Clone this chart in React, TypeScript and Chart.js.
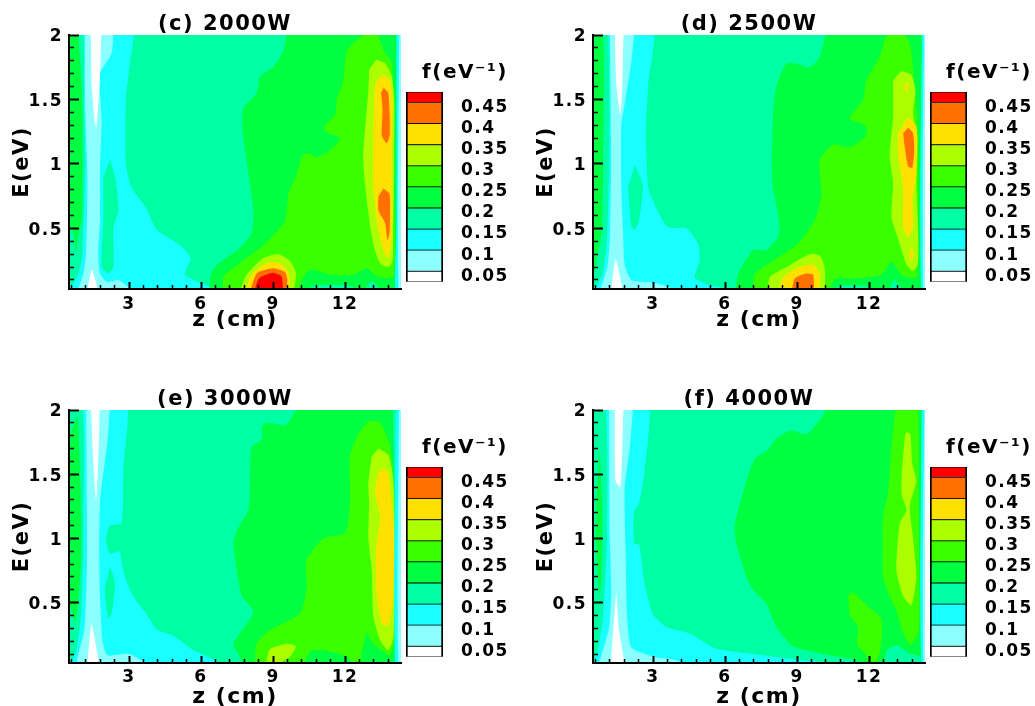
import React, { useEffect, useRef } from "react";
import { Chart, registerables } from "chart.js";

Chart.register(...registerables);

type Pt = number[];
const WHITE = "#ffffff", LIGHT = "#8cffff", CYAN = "#19ffff", SPRING = "#00ffa5", GREEN = "#00ff40",
  LIME = "#39ff00", YGREEN = "#abff00", YELLOW = "#ffe100", ORANGE = "#ff7000", RED = "#ff0000";

const legendBands = [WHITE, LIGHT, CYAN, SPRING, GREEN, LIME, YGREEN, YELLOW, ORANGE, RED];
const legendEdges = [0.025, 0.05, 0.1, 0.15, 0.2, 0.25, 0.3, 0.35, 0.4, 0.45, 0.475];
const legendTicks = [0.05, 0.1, 0.15, 0.2, 0.25, 0.3, 0.35, 0.4, 0.45];
const zMajor = [3, 6, 9, 12];
const zMinor = [0.6, 1.2, 1.8, 2.4, 3.6, 4.2, 4.8, 5.4, 6.6, 7.2, 7.8, 8.4, 9.6, 10.2, 10.8, 11.4, 12.6, 13.2, 13.8];
const eMajor = [0.5, 1, 1.5, 2];
const eMinor = [0.1, 0.2, 0.3, 0.4, 0.6, 0.7, 0.8, 0.9, 1.1, 1.2, 1.3, 1.4, 1.6, 1.7, 1.8, 1.9];
const background: Pt[] = [[0, -1], [16, -1], [16, 3], [0, 3]];

// ---- panel (c) 2000 W
const cCyan: Pt[] = [[0.2, 2.1], [3.15, 2.1], [3.05, 1.8], [2.87, 1.5], [2.87, 1.0], [3.1, 0.82], [3.73, 0.655], [4.15, 0.49], [5.13, 0.37], [5.57, 0.27], [5.33, 0.14], [6.5, 0.03], [6.6, -0.05], [0.2, -0.05]];
const cLight: Pt[] = [[1.17, 2.1], [1.17, 1.47], [1.24, 1.08], [1.27, 0.82], [1.21, 0.31], [1.1, 0.15], [0.89, 0.03], [0.85, -0.05], [3.2, -0.05], [3.04, 0.03], [2.56, 0.1], [2.07, 0.086], [1.79, 0.15], [1.72, 0.31], [1.79, 0.56], [1.79, 0.95], [1.86, 1.34], [1.79, 1.7], [2.28, 1.86], [2.35, 2.1]];
const cWhiteTop: Pt[] = [[1.4, 2.1], [1.45, 1.6], [1.585, 1.31], [1.65, 1.29], [1.79, 1.68], [1.86, 2.1]];
const cWhiteLow: Pt[] = [[1.2, -0.05], [1.45, 0.18], [1.8, -0.05]];
const cSpringL: Pt[] = [[0.2, 2.1], [1.03, 2.1], [1.12, 1.5], [1.17, 1], [1.06, 0.31], [0.89, 0.15], [0.68, 0.07], [0.5, 0.05], [0.2, 0.05]];
const cGreenL: Pt[] = [[0.57, 2.1], [0.82, 2.1], [1.03, 1.6], [1.07, 1], [1.03, 0.56], [0.89, 0.45], [0.79, 0.31], [0.7, 0.46], [0.54, 0.5], [0.2, 0.5], [0.2, 1.7]];
const cIsland: Pt[] = [[2.21, 1.03], [2.42, 0.9], [2.56, 0.64], [2.35, 0.51], [2.35, 0.2], [2.14, 0.15], [1.86, 0.2], [1.93, 0.56], [1.93, 0.9]];
const cGreen: Pt[] = [[9.64, 2.1], [9.43, 1.88], [9.0, 1.75], [8.46, 1.68], [8.32, 1.55], [7.76, 1.43], [7.74, 1.24], [8.18, 0.64], [8.1, 0.46], [7.6, 0.345], [6.65, 0.215], [6.38, 0.125], [6.5, -0.05], [14.18, -0.05], [14.18, 2.1]];
const cLime: Pt[] = [[6.96, -0.05], [6.93, 0.125], [7.6, 0.23], [8.6, 0.37], [9.5, 0.56], [9.64, 0.77], [10, 0.93], [10.2, 1.06], [10.54, 1.08], [10.8, 1.05], [11.4, 1.11], [11.8, 1.2], [11.3, 1.24], [11.1, 1.28], [11.6, 1.39], [11.65, 1.5], [11.93, 1.65], [12.07, 1.88], [12.7, 1.99], [13.25, 2.05], [13.6, 1.88], [13.95, 1.78], [14.0, 1.04], [14.08, 0.46], [14.0, 0.12], [13.3, 0.13], [12.9, 0.19], [12.35, 0.14], [11.4, 0.14], [10.54, 0.18], [10.2, 0.1], [10, -0.05]];
const cBottomSpring: Pt[] = [[10.4, -0.05], [10.6, 0.05], [12.3, 0.05], [12.6, -0.05]];
const cMound: Pt[] = [[12.6, -0.05], [13.1, 0.09], [13.8, -0.05]];
const cYgRight: Pt[] = [[13.3, 1.81], [13.67, 1.78], [13.95, 1.68], [14.05, 1.5], [14.05, 0.98], [14, 0.46], [13.98, 0.25], [13.8, 0.2], [13.46, 0.23], [13.2, 0.36], [13.05, 0.51], [12.8, 0.9], [12.76, 1.08], [12.97, 1.57], [13, 1.73]];
const cYeRight: Pt[] = [[13.6, 1.69], [13.87, 1.65], [13.98, 1.5], [13.94, 0.98], [13.98, 0.67], [13.94, 0.41], [13.8, 0.27], [13.6, 0.33], [13.32, 0.56], [13.18, 0.82], [13.18, 1.16], [13.25, 1.6], [13.39, 1.66]];
const cOrUp: Pt[] = [[13.6, 1.59], [13.8, 1.55], [13.87, 1.24], [13.74, 1.16], [13.53, 1.22], [13.56, 1.42], [13.5, 1.55]];
const cOrLow: Pt[] = [[13.6, 0.81], [13.85, 0.77], [13.87, 0.62], [13.85, 0.46], [13.76, 0.41], [13.67, 0.54], [13.39, 0.64], [13.39, 0.75]];
const cYgLow: Pt[] = [[7.5, -0.05], [7.9, 0.14], [8.6, 0.27], [9.22, 0.3], [9.7, 0.25], [9.95, 0.16], [9.92, 0.07], [9.8, -0.05]];
const cYeLow: Pt[] = [[7.75, -0.05], [8.1, 0.14], [8.74, 0.23], [9.3, 0.23], [9.64, 0.16], [9.7, 0.07], [9.62, -0.05]];
const cOrBlob: Pt[] = [[7.95, -0.05], [8.32, 0.15], [9, 0.19], [9.5, 0.16], [9.6, 0.1], [9.5, -0.05]];
const cRedBlob: Pt[] = [[8.15, -0.05], [8.4, 0.11], [8.94, 0.155], [9.36, 0.125], [9.42, -0.05]];
const cCyanR: Pt[] = [[14.14, 2.1], [14.14, 0.5], [14.14, -0.1], [15, -0.1], [15, 2.1]];
const cLightR: Pt[] = [[14.26, 2.1], [14.26, -0.1], [15, -0.1], [15, 2.1]];

// ---- panel (d) 2500 W
const dCyan: Pt[] = [[0.2, 2.1], [2.98, 2.1], [2.8, 1.62], [2.7, 1.24], [2.8, 0.82], [3.14, 0.655], [3.62, 0.51], [4.39, 0.5], [4.88, 0.38], [4.94, 0.25], [4.74, 0.12], [5.36, 0.06], [6.05, 0.03], [6.2, -0.05], [0.2, -0.05]];
const dLight: Pt[] = [[1.2, 2.1], [2.17, 2.1], [2.1, 1.8], [1.85, 1.5], [1.68, 1.3], [1.68, 0.8], [1.75, 0.5], [1.82, 0.22], [2.1, 0.1], [3, 0.08], [3.83, 0.03], [4, -0.05], [0.8, -0.05], [1.1, 0.2], [1.2, 0.4], [1.26, 1]];
const dWhiteTop: Pt[] = [[1.4, 2.1], [1.47, 1.62], [1.64, 1.38], [1.72, 1.6], [1.78, 2.1]];
const dWhiteLow: Pt[] = [[1.22, -0.05], [1.44, 0.26], [1.82, -0.05]];
const dSpringL: Pt[] = [[0.2, 2.1], [1.08, 2.1], [1.17, 1], [1.08, 0.4], [0.9, 0.15], [0.7, 0.07], [0.52, 0.04], [0.2, 0.04]];
const dGreenL: Pt[] = [[0.2, 2.1], [0.89, 2.1], [0.92, 1], [0.88, 0.5], [0.7, 0.3], [0.53, 0.15], [0.2, 0.12]];
const dIsland: Pt[] = [[2.24, 0.99], [2.58, 0.84], [2.42, 0.56], [2.24, 0.49], [2.1, 0.51], [1.96, 0.82]];
const dGreen: Pt[] = [[10.3, 2.1], [9.94, 1.83], [9.53, 1.75], [9.11, 1.77], [8.56, 1.78], [8.14, 1.6], [8, 1.37], [7.97, 0.85], [8.2, 0.62], [8.25, 0.45], [7.72, 0.33], [7.17, 0.33], [6.54, 0.14], [6.54, -0.05], [14.18, -0.05], [14.18, 2.1]];
const dLime: Pt[] = [[7.19, -0.05], [7.22, 0.14], [8, 0.25], [9.04, 0.38], [9.8, 0.59], [10.01, 0.77], [9.94, 1.03], [10.5, 1.15], [11.19, 1.13], [11.89, 1.22], [11.82, 1.3], [11.19, 1.35], [11.75, 1.5], [11.89, 1.65], [12.44, 1.83], [12.72, 1.99], [13.28, 2.05], [13.69, 1.94], [13.83, 1.75], [14.04, 1.24], [14.04, 0.46], [13.97, 0.12], [13.42, 0.13], [12.93, 0.24], [12.51, 0.14], [11.33, 0.11], [10.6, 0.11], [10.15, -0.05]];
const dBottomSpring: Pt[] = [[10.4, -0.05], [10.7, 0.05], [11.9, 0.05], [12.2, -0.05]];
const dMound: Pt[] = [[12.7, -0.05], [13.05, 0.1], [13.7, -0.05]];
const dYgRight: Pt[] = [[13.35, 1.72], [13.76, 1.69], [13.93, 1.57], [13.83, 1.39], [14.02, 1.2], [13.97, 0.85], [14.04, 0.51], [14.04, 0.23], [13.83, 0.17], [13.56, 0.22], [13.14, 0.46], [12.93, 0.59], [13, 0.85], [12.86, 1.06], [13, 1.37], [13, 1.65]];
const dYeRight: Pt[] = [[13.42, 1.3], [13.63, 1.36], [13.97, 1.29], [13.97, 0.93], [13.8, 0.72], [13.83, 0.51], [13.63, 0.43], [13.42, 0.51], [13.42, 0.82], [13.21, 1.06], [13.21, 1.24]];
const dYeTiny1: Pt[] = [[13.56, 1.63], [13.67, 1.6], [13.56, 1.56], [13.46, 1.6]];
const dYeTiny2: Pt[] = [[13.76, 0.36], [13.86, 0.29], [13.76, 0.25], [13.67, 0.29]];
const dOrRight: Pt[] = [[13.63, 1.28], [13.83, 1.24], [13.88, 1.11], [13.8, 0.97], [13.63, 0.98], [13.49, 1.13], [13.42, 1.24]];
const dYgLow: Pt[] = [[7.75, -0.05], [7.86, 0.12], [8.56, 0.2], [9.53, 0.3], [9.94, 0.29], [10.15, 0.2], [10.18, -0.05]];
const dYeLow: Pt[] = [[8.25, -0.05], [8.35, 0.1], [8.97, 0.19], [9.67, 0.22], [9.94, 0.15], [9.9, -0.05]];
const dOrLow: Pt[] = [[8.72, -0.05], [8.9, 0.11], [9.39, 0.15], [9.67, 0.14], [9.72, -0.05]];
const dCyanR: Pt[] = [[14.2, 2.1], [14.2, -0.1], [15, -0.1], [15, 2.1]];
const dLightR: Pt[] = [[14.29, 2.1], [14.29, -0.1], [15, -0.1], [15, 2.1]];

// ---- panel (e) 3000 W
const eCyan: Pt[] = [[0.2, 2.1], [2.85, 2.1], [2.76, 1.53], [2.69, 1.12], [2.2, 1.1], [2.04, 0.99], [2.2, 0.88], [2.4, 0.89], [2.6, 0.9], [2.83, 0.7], [3.18, 0.55], [3.74, 0.41], [4.15, 0.29], [4.85, 0.24], [5.68, 0.13], [6.51, 0.06], [7.3, -0.05], [0.2, -0.05]];
const eIsland: Pt[] = [[2.21, 0.78], [2.42, 0.65], [2.28, 0.42], [2.14, 0.38], [2, 0.55], [2, 0.62]];
const eLight: Pt[] = [[1.21, 2.1], [1.25, 1.2], [1.25, 0.8], [1.15, 0.3], [0.85, -0.05], [4.3, -0.05], [3, 0.1], [2.1, 0.09], [1.9, 0.2], [1.8, 0.5], [1.76, 0.9], [1.8, 1.3], [2.1, 1.75], [2.23, 2.1]];
const eWhiteTop: Pt[] = [[1.4, 2.1], [1.51, 1.6], [1.63, 1.3], [1.72, 1.6], [1.79, 2.1]];
const eWhiteLow: Pt[] = [[1.24, -0.05], [1.44, 0.33], [1.82, -0.05]];
const eSpringL: Pt[] = [[0.2, 2.1], [1.03, 2.1], [1.1, 1], [1, 0.4], [0.8, 0.12], [0.6, 0.05], [0.2, 0.05]];
const eGreenL: Pt[] = [[0.2, 1.8], [0.5, 1.8], [0.85, 1.95], [1, 1.2], [1, 0.8], [0.85, 0.45], [0.75, 0.35], [0.5, 0.5], [0.2, 0.5]];
const eGreen: Pt[] = [[10.25, 2.1], [9.7, 1.92], [9.5, 1.88], [8.74, 1.9], [8.53, 1.87], [8.53, 1.77], [8.1, 1.71], [8.04, 1.4], [7.97, 1.22], [7.49, 1.06], [7.35, 0.96], [7.49, 0.75], [7.7, 0.55], [8.18, 0.43], [7.35, 0.18], [7.56, 0.1], [8, -0.05], [14.12, -0.05], [14.12, 0.5], [13.98, 2.1]];
const eLime: Pt[] = [[8.25, -0.05], [8.29, 0.17], [8.74, 0.27], [10.13, 0.42], [10.4, 0.62], [10.38, 0.83], [11.1, 1], [12, 1.04], [12.2, 1.27], [12.2, 1.64], [12.49, 1.79], [12.97, 1.91], [13.46, 1.9], [13.88, 1.71], [14.08, 1.27], [14.08, 0.23], [13.87, 0.09], [13.18, 0.18], [12.9, 0.26], [12.7, 0.1], [12.63, -0.05], [12.07, 0.08], [11.1, 0.13], [10.54, 0.12], [10.2, -0.05]];
const eYgRight: Pt[] = [[13.39, 1.7], [13.8, 1.65], [14.01, 1.45], [14.08, 0.75], [14.01, 0.23], [13.8, 0.13], [13.46, 0.21], [13.18, 0.39], [13.11, 0.75], [12.97, 1.01], [13, 1.27], [12.97, 1.43], [13.11, 1.64]];
const eYeRight: Pt[] = [[13.6, 1.55], [13.8, 1.51], [13.94, 1.27], [14.05, 1.01], [13.98, 0.49], [13.8, 0.32], [13.53, 0.34], [13.32, 0.55], [13.29, 0.91], [13.46, 1.17], [13.25, 1.36], [13.39, 1.51]];
const eYgLow: Pt[] = [[8.74, 0.065], [8.88, 0.14], [9.57, 0.18], [9.96, 0.16], [9.71, 0.08], [9.15, 0.02], [8.8, 0.02]];
const eCyanR: Pt[] = [[14.12, 2.1], [14.12, -0.1], [15, -0.1], [15, 2.1]];
const eLightR: Pt[] = [[14.25, 2.1], [14.25, -0.1], [15, -0.1], [15, 2.1]];

// ---- panel (f) 4000 W
const fCyan: Pt[] = [[0.2, 2.1], [2.77, 2.1], [2.65, 1.53], [2.42, 1.27], [2.21, 1.21], [2.21, 0.96], [2.42, 0.95], [2.65, 0.65], [3, 0.41], [3.56, 0.31], [4.53, 0.26], [5.64, 0.14], [7.17, 0.1], [8.56, 0.065], [9.94, 0.04], [11.33, 0.02], [12.5, -0.05], [0.2, -0.05]];
const fLight: Pt[] = [[1.17, 2.1], [1.2, 1], [1.26, 0.6], [1.17, 0.3], [0.8, -0.05], [5.1, -0.05], [3.97, 0.05], [3, 0.08], [2.1, 0.15], [1.92, 0.4], [1.86, 0.9], [1.82, 1.4], [2.03, 1.7], [2.2, 2.1]];
const fWhiteTop: Pt[] = [[1.4, 2.1], [1.44, 1.45], [1.64, 1.4], [1.72, 1.7], [1.78, 2.1]];
const fWhiteLow: Pt[] = [[1.22, -0.05], [1.47, 0.57], [1.58, 0.3], [1.88, -0.05]];
const fSpringL: Pt[] = [[0.2, 2.1], [0.99, 2.1], [1.08, 1], [0.92, 0.4], [0.7, 0.12], [0.52, 0.04], [0.2, 0.04]];
const fGreenL: Pt[] = [[0.78, 1.7], [0.89, 1.2], [0.85, 0.7], [0.78, 0.55], [0.61, 1.0], [0.67, 1.4]];
const fGreen: Pt[] = [[10.5, 2.1], [9.94, 1.92], [9.39, 1.81], [8.76, 1.84], [8.14, 1.78], [7.79, 1.69], [7.24, 1.62], [6.89, 1.45], [6.4, 1.1], [6.47, 0.96], [6.89, 0.7], [7.17, 0.6], [7.72, 0.49], [8.14, 0.31], [8.83, 0.16], [10.64, 0.08], [11.47, 0.05], [11.89, -0.05], [12.58, -0.05], [12.72, 0.12], [13.14, 0.17], [13.69, 0.1], [14.11, 0.08], [14.18, -0.05], [14.18, 2.1]];
const fLimeR: Pt[] = [[13.14, 2.1], [13.97, 2.1], [14.06, 1.27], [14.08, 0.29], [13.76, 0.17], [13.42, 0.26], [13.14, 0.44], [12.86, 0.55], [12.58, 0.7], [12.58, 1.17], [12.79, 1.35], [12.93, 1.71]];
const fLimeIsland: Pt[] = [[11.13, 0.55], [11.33, 0.58], [11.89, 0.48], [12.5, 0.38], [12.54, 0.26], [12.43, 0.1], [12.01, -0.05], [11.89, 0.09], [11.5, 0.17], [11.54, 0.31], [11.19, 0.4]];
const fYgRight: Pt[] = [[13.56, 1.83], [13.72, 1.81], [13.8, 1.58], [13.97, 1.45], [13.69, 1.25], [13.83, 1.01], [13.97, 0.7], [13.76, 0.48], [13.42, 0.55], [13.14, 0.75], [13.28, 1.12], [13.56, 1.22], [13.36, 1.34], [13.36, 1.49], [13.49, 1.79]];
const fCyanR: Pt[] = [[14.2, 2.1], [14.2, -0.1], [15, -0.1], [15, 2.1]];
const fLightR: Pt[] = [[14.3, 2.1], [14.3, -0.1], [15, -0.1], [15, 2.1]];

const panels: { title: string; dx: number; dy: number; axisH: number; titlePad: number; tickPad: number; regions: [string, Pt[]][] }[] = [
  {
    title: "(c) 2000W", dx: 0, dy: 0, axisH: 56, titlePad: 12, tickPad: 12,
    regions: [[SPRING, background], [CYAN, cCyan], [LIGHT, cLight], [WHITE, cWhiteTop], [WHITE, cWhiteLow], [SPRING, cSpringL], [GREEN, cGreenL], [SPRING, cIsland], [GREEN, cGreen], [LIME, cLime], [SPRING, cBottomSpring], [SPRING, cMound], [YGREEN, cYgRight], [YELLOW, cYeRight], [ORANGE, cOrUp], [ORANGE, cOrLow], [YGREEN, cYgLow], [YELLOW, cYeLow], [ORANGE, cOrBlob], [RED, cRedBlob], [CYAN, cCyanR], [LIGHT, cLightR]],
  },
  {
    title: "(d) 2500W", dx: 524, dy: 0, axisH: 56, titlePad: 12, tickPad: 12,
    regions: [[SPRING, background], [CYAN, dCyan], [LIGHT, dLight], [WHITE, dWhiteTop], [WHITE, dWhiteLow], [SPRING, dSpringL], [GREEN, dGreenL], [SPRING, dIsland], [GREEN, dGreen], [LIME, dLime], [SPRING, dBottomSpring], [SPRING, dMound], [YGREEN, dYgRight], [YELLOW, dYeRight], [YELLOW, dYeTiny1], [YELLOW, dYeTiny2], [ORANGE, dOrRight], [YGREEN, dYgLow], [YELLOW, dYeLow], [ORANGE, dOrLow], [CYAN, dCyanR], [LIGHT, dLightR]],
  },
  {
    title: "(e) 3000W", dx: 0, dy: 375, axisH: 57, titlePad: 10, tickPad: 11,
    regions: [[SPRING, background], [CYAN, eCyan], [SPRING, eIsland], [LIGHT, eLight], [WHITE, eWhiteTop], [WHITE, eWhiteLow], [SPRING, eSpringL], [GREEN, eGreenL], [GREEN, eGreen], [LIME, eLime], [YGREEN, eYgRight], [YELLOW, eYeRight], [YGREEN, eYgLow], [CYAN, eCyanR], [LIGHT, eLightR]],
  },
  {
    title: "(f) 4000W", dx: 524, dy: 375, axisH: 57, titlePad: 10, tickPad: 11,
    regions: [[SPRING, background], [CYAN, fCyan], [LIGHT, fLight], [WHITE, fWhiteTop], [WHITE, fWhiteLow], [SPRING, fSpringL], [GREEN, fGreenL], [GREEN, fGreen], [LIME, fLimeR], [LIME, fLimeIsland], [YGREEN, fYgRight], [CYAN, fCyanR], [LIGHT, fLightR]],
  },
];

const FONT = "'DejaVu Sans'";
const spacing = { id: "spacing", beforeDraw(c: any) { c.ctx.letterSpacing = "1.5px"; } };
const setTicks = (vals: number[]) => (s: any) => { s.ticks = vals.map((value) => ({ value })); };
const fix = (k: "width" | "height", v: number) => (s: any) => { s[k] = v; };
const fmt = (v: any) => String(v);

function Panel({ p }: { p: (typeof panels)[number] }) {
  const mainRef = useRef<HTMLCanvasElement>(null);
  const barRef = useRef<HTMLCanvasElement>(null);
  useEffect(() => {
    const main = new Chart(mainRef.current!, {
      type: "scatter",
      data: {
        datasets: [...p.regions].reverse().map(([color, pts]) => ({
          data: pts.map(([x, y]) => ({ x, y })),
          showLine: true, fill: "shape", tension: 0.2, borderWidth: 0,
          backgroundColor: color, pointRadius: 0,
        })),
      },
      plugins: [spacing],
      options: {
        animation: false, responsive: false, events: [],
        layout: { padding: 0 },
        plugins: {
          legend: { display: false }, tooltip: { enabled: false },
          title: {
            display: true, text: p.title, color: "#000",
            font: { family: FONT, size: 21, weight: "bold", lineHeight: 1 },
            padding: { top: 14, bottom: 0 },
          },
        },
        scales: {
          xMinor: {
            type: "linear", position: "bottom", weight: -1, min: 0.5, max: 14.33,
            afterBuildTicks: setTicks(zMinor), afterFit: fix("height", 0),
            border: { display: false },
            grid: { drawOnChartArea: false, tickLength: -4, tickWidth: 1.5, tickColor: "#000", z: 2 },
            ticks: { display: false },
          },
          x: {
            type: "linear", position: "bottom", weight: 0, min: 0.5, max: 14.33,
            afterBuildTicks: setTicks(zMajor), afterFit: fix("height", p.axisH),
            border: { display: true, color: "#000", width: 2, z: 3 },
            grid: { drawOnChartArea: false, tickLength: -7, tickWidth: 2, tickColor: "#000", z: 2 },
            ticks: { color: "#000", padding: p.tickPad, maxRotation: 0, autoSkip: false, callback: fmt, font: { family: FONT, size: 17, weight: "bold" } },
            title: { display: true, text: "z (cm)", color: "#000", padding: { top: 0, bottom: p.titlePad }, font: { family: FONT, size: 22, weight: "bold", lineHeight: 1.2 } },
          },
          yMinor: {
            type: "linear", position: "left", weight: -1, min: 0.03, max: 2,
            afterBuildTicks: setTicks(eMinor), afterFit: fix("width", 0),
            border: { display: false },
            grid: { drawOnChartArea: false, tickLength: -5, tickWidth: 1.5, tickColor: "#000", z: 2 },
            ticks: { display: false },
          },
          y: {
            type: "linear", position: "left", weight: 0, min: 0.03, max: 2,
            afterBuildTicks: setTicks(eMajor), afterFit: fix("width", 69),
            border: { display: true, color: "#000", width: 2, z: 3 },
            grid: { drawOnChartArea: false, tickLength: -10, tickWidth: 2, tickColor: "#000", z: 2 },
            ticks: { color: "#000", padding: 16, labelOffset: 2, autoSkip: false, callback: fmt, font: { family: FONT, size: 17, weight: "bold" } },
            title: { display: true, text: "E(eV)", color: "#000", padding: { top: 10, bottom: 0 }, font: { family: FONT, size: 21, weight: "bold", lineHeight: 1.2 } },
          },
          spare: {
            type: "linear", position: "right", afterFit: fix("width", 49),
            border: { display: false }, grid: { display: false, drawTicks: false }, ticks: { display: false },
          },
        },
      } as any,
    } as any);

    const bar = new Chart(barRef.current!, {
      type: "bar",
      data: {
        labels: ["f"],
        datasets: legendBands.map((color, i) => ({
          data: [[legendEdges[i], legendEdges[i + 1]]],
          backgroundColor: color, borderColor: "#000",
          borderWidth: { left: 2, right: 2, top: 0.75, bottom: 0.75 }, borderSkipped: false,
          barPercentage: 1, categoryPercentage: 1, grouped: false,
        })),
      },
      plugins: [spacing],
      options: {
        animation: false, responsive: false, events: [],
        layout: { padding: { left: 6, right: 0, top: 0, bottom: 0 } },
        plugins: {
          legend: { display: false }, tooltip: { enabled: false },
          title: {
            display: true, text: "f(eV\u207B\u00B9)", color: "#000",
            font: { family: FONT, size: 20, weight: "bold", lineHeight: 1 },
            padding: { top: 63, bottom: 9 },
          },
        },
        scales: {
          x: { display: false },
          y: {
            type: "linear", position: "right", min: 0.025, max: 0.475,
            afterBuildTicks: setTicks(legendTicks), afterFit: fix("width", 81),
            border: { display: false },
            grid: { display: false, drawTicks: false },
            ticks: { color: "#000", padding: 18, autoSkip: false, labelOffset: 5, callback: fmt, font: { family: FONT, size: 17, weight: "bold" } },
          },
        },
      } as any,
    } as any);
    return () => { main.destroy(); bar.destroy(); };
  }, [p]);
  return (
    <>
      <canvas ref={mainRef} width={450} height={345} style={{ position: "absolute", left: p.dx, top: p.dy }} />
      <canvas ref={barRef} width={124} height={310} style={{ position: "absolute", left: p.dx + 400, top: p.dy }} />
    </>
  );
}

export default function App() {
  return (
    <div style={{ position: "fixed", left: 0, top: 0, width: 1035, height: 706, overflow: "hidden", background: "#fff" }}>
      {panels.map((p) => <Panel key={p.title} p={p} />)}
    </div>
  );
}
